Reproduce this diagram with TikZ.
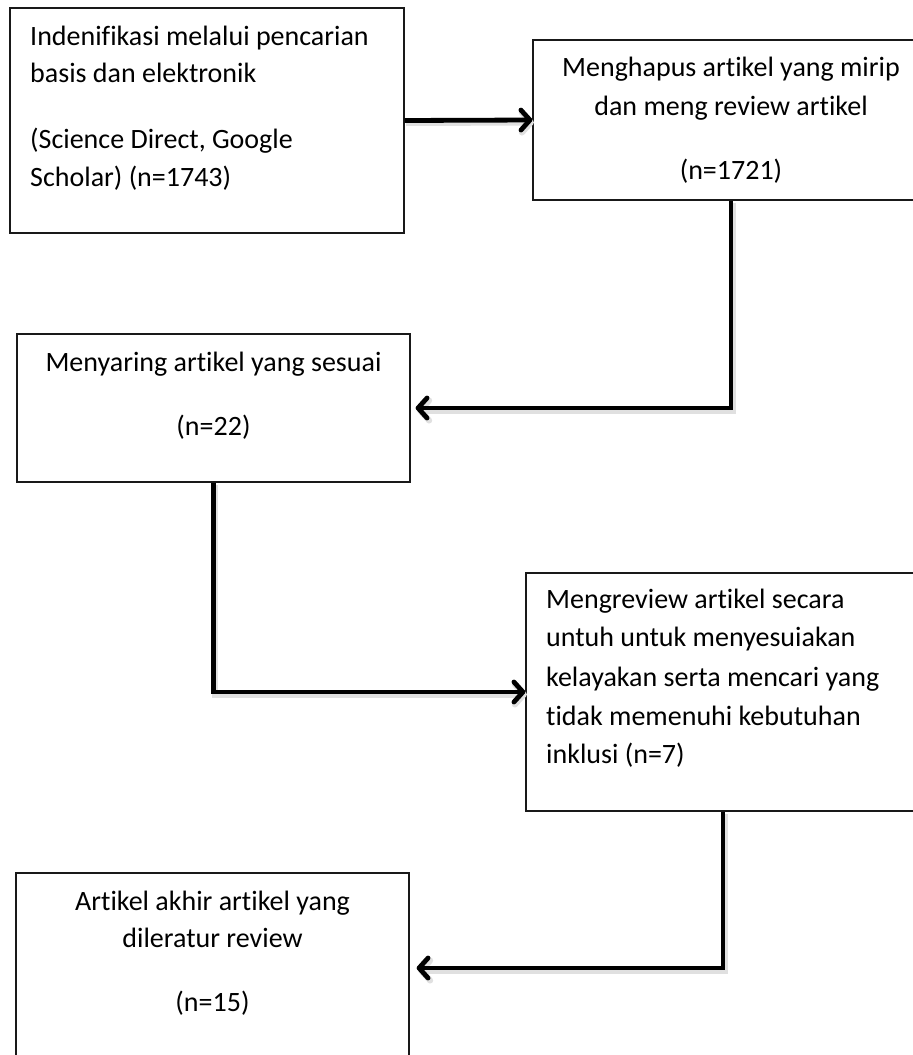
\documentclass[tikz,border=0pt]{standalone}
\usepackage{fontspec}
\setmainfont{Carlito}[Ligatures={NoCommon}]
\usetikzlibrary{arrows.meta}
\begin{document}
\begin{tikzpicture}[x=1pt,y=-1pt,
  box/.style={draw=black!90, line width=1.3pt, inner sep=0pt, fill=white},
  txt/.style={font=\fontsize{28}{34}\selectfont, inner sep=0pt, text=black},
  flow/.style={line width=4.8pt, line join=miter,
    -{Straight Barb[length=9pt,width=20pt,line cap=round,line join=round]}},
  shadowflow/.style={flow, draw=black!12, line width=6pt,
    transform canvas={shift={(1.5pt,-2.5pt)}}}]
\clip (0,0) rectangle (913,1055);
\fill[white] (0,0) rectangle (913,1055);
% boxes
\node[box, minimum width=394pt, minimum height=225pt] (b1) at (207,120.5) {};
\node[box, minimum width=396pt, minimum height=160pt] (b2) at (731,120) {};
\node[box, minimum width=393pt, minimum height=148pt] (b3) at (213.5,408) {};
\node[box, minimum width=394pt, minimum height=238pt] (b4) at (723,692) {};
\node[box, minimum width=393pt, minimum height=190pt] (b5) at (212.5,968) {};
% shadows of connectors
\draw[shadowflow] (b1.east) -- (b2.west);
\draw[shadowflow, shorten >=5pt] (b2.south) |- (b3.east);
\draw[shadowflow] (b3.south) |- (b4.west);
\draw[shadowflow, shorten >=7pt] (b4.south) |- (b5.east);
% connectors
\draw[flow] (b1.east) -- (b2.west);
\draw[flow, shorten >=5pt] (b2.south) |- (b3.east);
\draw[flow] (b3.south) |- (b4.west);
\draw[flow, shorten >=7pt] (b4.south) |- (b5.east);
% texts box 1
\node[txt, anchor=base west] (t1a) at (30,45.5) {Indenifikasi melalui pencarian};
\node[txt, anchor=base west] (t1b) at (30,82.5) {basis dan elektronik};
\node[txt, anchor=base west] (t1c) at (30,148) {(Science Direct, Google};
\node[txt, anchor=base west] (t1d) at (30,186) {Scholar) (n=1743)};
% box 2
\node[txt, anchor=base] (t2a) at (731,76.5) {Menghapus artikel yang mirip};
\node[txt, anchor=base] (t2b) at (731,115) {dan meng review artikel};
\node[txt, anchor=base] (t2c) at (731,179) {(n=1721)};
% box 3
\node[txt, anchor=base] (t3a) at (213.5,371.5) {Menyaring artikel yang sesuai};
\node[txt, anchor=base] (t3b) at (213.5,435) {(n=22)};
% box 4
\node[txt, anchor=base west] (t4a) at (546,608) {Mengreview artikel secara};
\node[txt, anchor=base west] (t4b) at (546,646.5) {untuh untuk menyesuiakan};
\node[txt, anchor=base west] (t4c) at (546,686.5) {kelayakan serta mencari yang};
\node[txt, anchor=base west] (t4d) at (546,725) {tidak memenuhi kebutuhan};
\node[txt, anchor=base west] (t4e) at (546,763) {inklusi (n=7)};
% box 5
\node[txt, anchor=base] (t5a) at (212.5,910.5) {Artikel akhir artikel yang};
\node[txt, anchor=base] (t5b) at (212.5,947.5) {dileratur review};
\node[txt, anchor=base] (t5c) at (212.5,1011.5) {(n=15)};
\end{tikzpicture}
\end{document}
